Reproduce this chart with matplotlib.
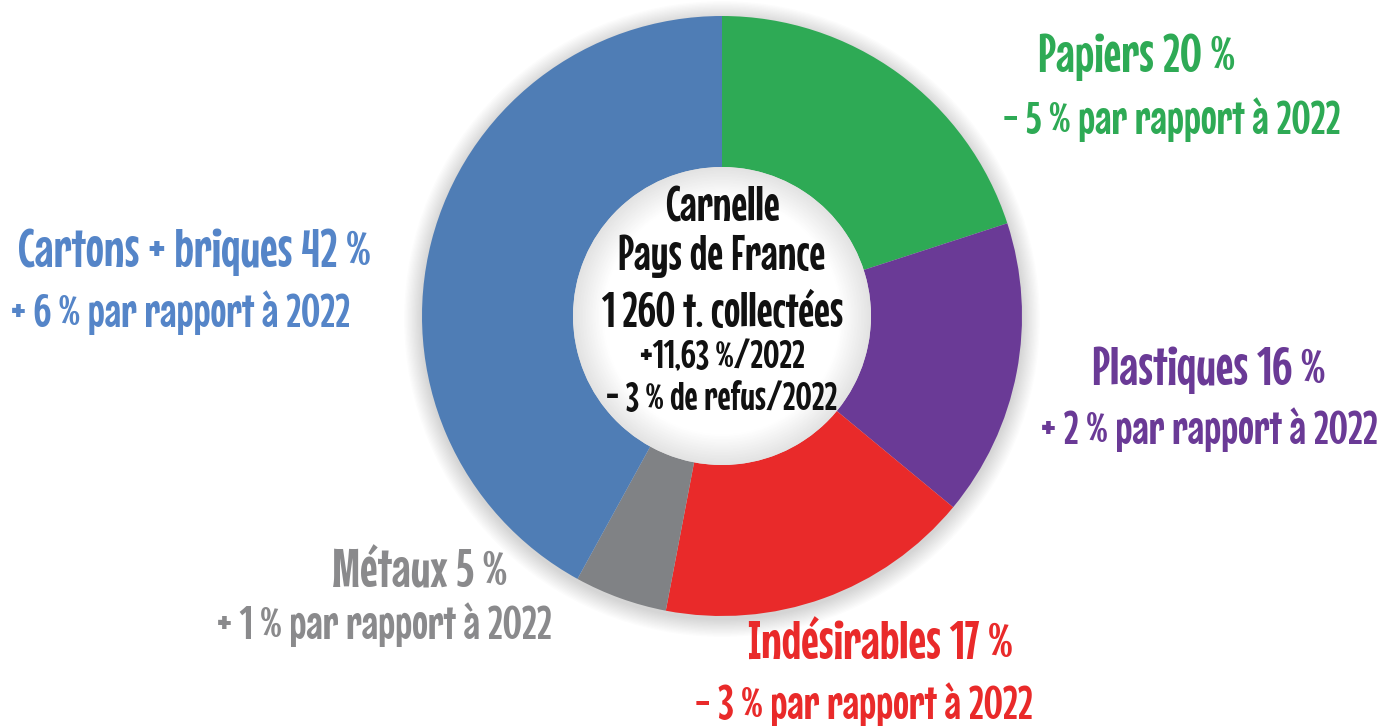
import matplotlib
matplotlib.use("Agg")
import matplotlib.pyplot as plt
from matplotlib.patches import Circle

# data
categories = ["Papiers", "Plastiques", "Indésirables", "Métaux", "Cartons + briques"]
shares = [20, 16, 17, 5, 42]
evolution = ["- 5 %", "+ 2 %", "- 3 %", "+ 1 %", "+ 6 %"]
slice_colors = ["#2eaa55", "#6a3a96", "#e92a2a", "#808285", "#4f7db5"]
text_colors = ["#2eaa55", "#6a3a96", "#e92a2a", "#8a8a8c", "#5585c8"]
center_lines = ["Carnelle", "Pays de France", "1 260 t. collectées",
                "+11,63 %/2022", "- 3 % de refus/2022"]

W, H = 1384, 726
cx, cy = 722, H - 316
R, r_in = 300, 149

fam = ["Mouse Memoirs", "DejaVu Sans"]

fig = plt.figure(figsize=(W / 100, H / 100), dpi=100)
ax = fig.add_axes([0, 0, 1, 1])

# soft drop shadow
for k in range(14):
    ax.add_patch(Circle((cx, cy - 3), R + 1 + k * 1.3, color="black",
                        alpha=0.012, lw=0, zorder=0))

ax.pie(shares, colors=slice_colors, startangle=90, counterclock=False,
       radius=R, center=(cx, cy), frame=True,
       wedgeprops=dict(width=R - r_in, linewidth=0))
ax.set_xlim(0, W)
ax.set_ylim(0, H)
ax.set_aspect("equal")
ax.axis("off")

# shaded hole
n = 20
for i in range(n):
    g = 0.89 + 0.11 * i / (n - 1)
    ax.add_patch(Circle((cx, cy), r_in - i * 1.6, color=(g, g, g), lw=0, zorder=3))

# labels
label_pos = [
    ((1136, 57), (1172, 120)),
    ((1209, 370), (1209, 430)),
    ((880, 645), (864, 705)),
    ((420, 573), (384, 625)),
    ((194, 252), (181, 313)),
]
for cat, s, ev, col, (p1, p2) in zip(categories, shares, evolution, text_colors, label_pos):
    ax.text(p1[0], H - p1[1], f"{cat} {s} %", color=col, fontsize=39,
            family=fam, ha="center", va="center", zorder=5)
    ax.text(p2[0], H - p2[1], f"{ev} par rapport à 2022", color=col, fontsize=34,
            family=fam, ha="center", va="center", zorder=5)

# centre text
center_y = [208, 256, 313, 358, 400]
center_size = [35, 35, 35, 29, 29]
for t, y, fs in zip(center_lines, center_y, center_size):
    ax.text(cx, H - y, t, color="#111111", fontsize=fs,
            family=fam, ha="center", va="center", zorder=6)

fig.savefig("out.png", dpi=100, facecolor="white")
